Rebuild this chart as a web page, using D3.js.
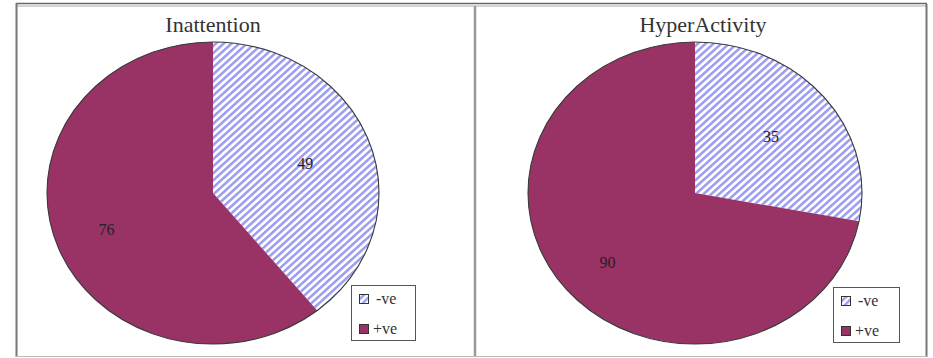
<!DOCTYPE html>
<html>
<head>
<meta charset="utf-8">
<script src="https://cdn.jsdelivr.net/npm/d3@7"></script>
<style>
  body { margin: 0; background: #fff; }
  svg text { font-family: "Liberation Serif", "DejaVu Serif", serif; }
</style>
</head>
<body>
<svg id="chart" width="933" height="358"></svg>
<script>
// chart data
var panelTitles = ['Inattention', 'HyperActivity'];
var categories = ['-ve', '+ve'];
var inattentionValues = [49, 76];
var hyperActivityValues = [35, 90];

var svg = d3.select('#chart');
var width = 933, height = 358;

// hatch pattern for the -ve slices
var defs = svg.append('defs');
var pat = defs.append('pattern')
  .attr('id', 'hatch')
  .attr('patternUnits', 'userSpaceOnUse')
  .attr('width', 5)
  .attr('height', 5)
  .attr('patternTransform', 'rotate(45)');
pat.append('rect').attr('width', 5).attr('height', 5).attr('fill', '#fff');
pat.append('rect').attr('width', 2.4).attr('height', 5).attr('fill', '#9c9cf2');

var color = d3.scaleOrdinal().domain(categories).range(['url(#hatch)', '#993366']);

// outer frame
svg.append('line').attr('x1', 16).attr('x2', 927).attr('y1', 3.5).attr('y2', 3.5)
  .attr('stroke', '#666').attr('stroke-width', 1.5);
svg.append('line').attr('x1', 16).attr('x2', 927).attr('y1', 6).attr('y2', 6)
  .attr('stroke', '#aaa').attr('stroke-width', 1);
svg.append('line').attr('x1', 16.5).attr('x2', 16.5).attr('y1', 3).attr('y2', 357)
  .attr('stroke', '#777').attr('stroke-width', 2);
svg.append('line').attr('x1', 926.5).attr('x2', 926.5).attr('y1', 4).attr('y2', 357)
  .attr('stroke', '#777').attr('stroke-width', 2);
svg.append('line').attr('x1', 475).attr('x2', 475).attr('y1', 6).attr('y2', 357)
  .attr('stroke', '#999').attr('stroke-width', 2.5);
svg.append('line').attr('x1', 16).attr('x2', 927).attr('y1', 356.5).attr('y2', 356.5)
  .attr('stroke', '#bbb').attr('stroke-width', 1);

var panels = [
  { title: panelTitles[0], values: inattentionValues, cx: 213, cy: 193, rx: 166, ry: 151, tx: 213, lx: 351, ly: 285, lw: 64 },
  { title: panelTitles[1], values: hyperActivityValues, cx: 695, cy: 193, rx: 167, ry: 151, tx: 703, lx: 833, ly: 287, lw: 66 }
];

var pie = d3.pie().sort(null).value(d => d.value);

panels.forEach(function(p) {
  var data = categories.map((c, i) => ({ cat: c, value: p.values[i] }));
  var arcs = pie(data);
  var r = p.ry;
  var arc = d3.arc().innerRadius(0).outerRadius(r);

  svg.append('text')
    .attr('x', p.tx)
    .attr('y', 32)
    .attr('text-anchor', 'middle')
    .attr('font-size', 22)
    .attr('fill', '#333')
    .text(p.title);

  var g = svg.append('g')
    .attr('transform', 'translate(' + p.cx + ',' + p.cy + ') scale(' + (p.rx / r) + ',1)');

  g.selectAll('path.slice')
    .data(arcs)
    .enter()
    .append('path')
    .attr('class', 'slice')
    .attr('d', arc)
    .attr('fill', d => color(d.data.cat));

  // dark rim
  g.append('circle')
    .attr('r', r)
    .attr('fill', 'none')
    .attr('stroke', '#3a3a3a')
    .attr('stroke-width', 1.1)
    .attr('vector-effect', 'non-scaling-stroke');

  // value labels
  svg.selectAll(null)
    .data(arcs)
    .enter()
    .append('text')
    .attr('x', function(d, i) {
      var a = (d.startAngle + d.endAngle) / 2;
      var f = i === 0 ? 0.59 : 0.68;
      return p.cx + Math.sin(a) * p.rx * f;
    })
    .attr('y', function(d, i) {
      var a = (d.startAngle + d.endAngle) / 2;
      var f = i === 0 ? 0.58 : 0.73;
      return p.cy - Math.cos(a) * p.ry * f + 5;
    })
    .attr('text-anchor', 'middle')
    .attr('font-size', 16)
    .attr('fill', '#222')
    .text(d => d.data.value);

  // legend
  var lg = svg.append('g').attr('transform', 'translate(' + p.lx + ',' + p.ly + ')');
  lg.append('rect')
    .attr('x', 0.5).attr('y', 0.5)
    .attr('width', p.lw).attr('height', 55)
    .attr('fill', '#fff')
    .attr('stroke', '#555')
    .attr('stroke-width', 1);
  categories.forEach(function(c, i) {
    lg.append('rect')
      .attr('x', 8.5).attr('y', 9.5 + i * 30)
      .attr('width', 9).attr('height', 9)
      .attr('fill', color(c))
      .attr('stroke', '#333')
      .attr('stroke-width', 1);
    lg.append('text')
      .attr('x', i === 0 ? 25 : 22)
      .attr('y', 19 + i * 30)
      .attr('font-size', 16)
      .attr('fill', '#333')
      .text(c);
  });
});
</script>
</body>
</html>
